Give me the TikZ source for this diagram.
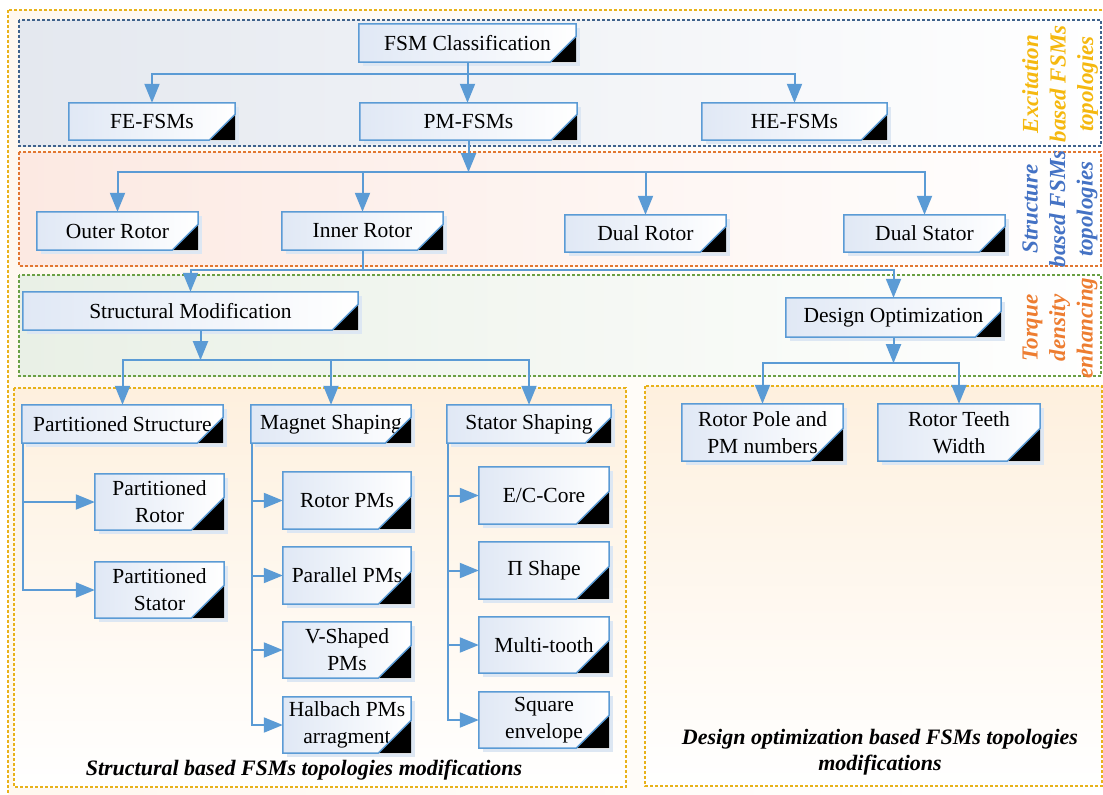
\documentclass[tikz,border=0pt]{standalone}
\usepackage{fontspec}
\setmainfont{Liberation Serif}
\usetikzlibrary{arrows.meta}
\definecolor{lblue}{HTML}{5B9BD5}
\definecolor{boxbg}{HTML}{E0E8F5}
\definecolor{shc}{HTML}{DDE7F3}
\definecolor{ygold}{HTML}{E8B21A}
\definecolor{bandblue}{HTML}{3E628C}
\definecolor{bandor}{HTML}{E27730}
\definecolor{bandgr}{HTML}{6AA044}
\definecolor{labgold}{HTML}{F5B80F}
\definecolor{labblue}{HTML}{4472C4}
\definecolor{labor}{HTML}{ED7D31}
\definecolor{fillblue}{HTML}{E4E8EF}
\definecolor{fillor}{HTML}{FCE9E2}
\definecolor{fillgr}{HTML}{E9F0E6}
\definecolor{peach}{HTML}{FEF0DE}
\newcommand\bxx[6]{%
  \fill[shc] (#2-#4/2+4,#3-#5/2+4) rectangle (#2+#4/2+4,#3+#5/2+4);
  \node[bx, minimum width=#4pt, minimum height=#5pt] (#1) at (#2,#3) {#6};}
\begin{document}
\begin{tikzpicture}[x=1pt,y=-1pt,
  arr/.style={draw=lblue, line width=2pt, -{Triangle[length=19pt,width=15pt]}},
  ln/.style={draw=lblue, line width=2pt},
  bx/.style={rectangle, inner sep=0pt, left color=boxbg, right color=white, font=\fontsize{21.5}{27}\selectfont, align=center},
  dsh/.style={line width=1.4pt, dash pattern=on 3pt off 2pt},
  sidelab/.style={rotate=90, align=center, font=\bfseries\itshape\fontsize{23}{27.5}\selectfont},
  capt/.style={align=center, font=\bfseries\itshape\fontsize{22}{26}\selectfont}]
\useasboundingbox (0,0) rectangle (1103,795);
\clip (0,0) rectangle (1103,795);
% outer frame
\path[left color=peach!50, right color=white] (8,10) rectangle (1125,815);
\draw[dsh, draw=ygold] (8,10) rectangle (1125,815);
% bands
\path[left color=fillblue, right color=white] (19,20) rectangle (1101,146);
\draw[dsh, draw=bandblue] (19,20) rectangle (1101,146);
\path[left color=fillor, right color=white] (19,152) rectangle (1101,266);
\draw[dsh, draw=bandor] (19,152) rectangle (1101,266);
\path[left color=fillgr, right color=white] (19,275) rectangle (1101,376);
\draw[dsh, draw=bandgr] (19,275) rectangle (1101,376);
\path[top color=peach, bottom color=white] (14,388) rectangle (626,787);
\draw[dsh, draw=ygold] (14,388) rectangle (626,787);
\path[top color=peach, bottom color=white] (645,386) rectangle (1102,786);
\draw[dsh, draw=ygold] (645,386) rectangle (1102,786);
% boxes
\bxx{fsm}{467.5}{43}{217}{38}{FSM Classification}
\bxx{fe}{152}{121.5}{166}{37}{FE-FSMs}
\bxx{pm}{468.5}{121.5}{217}{37}{PM-FSMs}
\bxx{he}{794.5}{121.5}{185}{37}{HE-FSMs}
\bxx{outer}{117.5}{231}{161}{38}{Outer Rotor}
\bxx{inner}{362.5}{231}{161}{38}{Inner Rotor}
\bxx{dualr}{645.5}{233.5}{161}{37}{Dual Rotor}
\bxx{duals}{924.5}{233.5}{161}{37}{Dual Stator}
\bxx{sm}{190.5}{311}{335}{38}{Structural Modification}
\bxx{dopt}{893.5}{317.5}{215}{39}{Design Optimization}
\bxx{ps}{122.5}{424}{201}{38}{Partitioned Structure}
\bxx{ms}{331}{424}{160}{38}{Magnet Shaping}
\bxx{ss}{529}{424}{164}{38}{Stator Shaping}
\bxx{prot}{159.5}{502}{129}{56}{Partitioned\\Rotor}
\bxx{psta}{159.5}{590}{129}{56}{Partitioned\\Stator}
\bxx{rpm}{347}{500.5}{128}{57}{Rotor PMs}
\bxx{ppm}{347}{575.5}{128}{57}{Parallel PMs}
\bxx{vpm}{347}{650}{128}{56}{V-Shaped\\PMs}
\bxx{hpm}{347}{725}{128}{56}{Halbach PMs\\arragment}
\bxx{ec}{544}{495.5}{130}{57}{E/C-Core}
\bxx{pi}{544}{570.5}{130}{57}{Π Shape}
\bxx{mt}{544}{645}{130}{56}{Multi-tooth}
\bxx{sq}{544}{720}{130}{56}{Square\\envelope}
\bxx{rp}{762.5}{432.5}{161}{57}{Rotor Pole and\\PM numbers}
\bxx{rt}{959}{432.5}{162}{57}{Rotor Teeth\\Width}
% corner decoration
\foreach \n/\tri in {fsm/26,fe/26,pm/26,he/26,outer/26,inner/26,dualr/26,duals/26,sm/26,dopt/26,ps/26,ms/26,ss/26,prot/33,psta/33,rpm/33,ppm/33,vpm/33,hpm/33,ec/33,pi/33,mt/33,sq/33,rp/33,rt/33}{
  \fill[black] ([xshift=-\tri]\n.south east) -- (\n.south east) -- ([yshift=\tri]\n.south east) -- cycle;
  \draw[draw=lblue, line width=1.5pt] (\n.north west) -- (\n.north east) -- ([yshift=\tri]\n.south east) -- ([xshift=-\tri]\n.south east) -- (\n.south west) -- cycle;
}
% connectors
\draw[ln] (fsm.south) -- ++(0,12) coordinate (j1);
\draw[arr] (j1) -| (fe.north);
\draw[arr] (j1) -- (j1 |- pm.north);
\draw[arr] (j1) -| (he.north);
\draw[arr] (pm.south) -- ++(0,32) coordinate (j2);
\draw[arr] (j2) -| (outer.north);
\draw[arr] (j2) -| (inner.north);
\draw[arr] (j2) -| (dualr.north);
\draw[arr] (j2) -| (duals.north);
\draw[ln] (inner.south) -- ++(0,20) coordinate (j3);
\draw[arr] (j3) -| (sm.north);
\draw[arr] (j3) -| (dopt.north);
\coordinate (smo) at ([xshift=10]sm.south);
\draw[arr] (smo) -- ++(0,30) coordinate (j4);
\draw[arr] (j4) -| (ps.north);
\draw[arr] (j4) -| (ms.north);
\draw[arr] (j4) -| (ss.north);
\draw[arr] (dopt.south) -- ++(0,26) coordinate (j5);
\draw[arr] (j5) -| (rp.north);
\draw[arr] (j5) -| (rt.north);
\coordinate (psb) at ([xshift=1]ps.south west);
\draw[arr] (psb) |- (prot.west);
\draw[arr] (psb) |- (psta.west);
\foreach \m in {rpm,ppm,vpm,hpm}{\draw[arr] ([xshift=1]ms.south west) |- (\m.west);}
\foreach \m in {ec,pi,mt,sq}{\draw[arr] ([xshift=1]ss.south west) |- (\m.west);}
% side labels
\node[sidelab, text=labgold] (lab1) at (1060,84) {Excitation\\based FSMs\\topologies};
\node[sidelab, text=labblue] (lab2) at (1060,209) {Structure\\based FSMs\\topologies};
\node[sidelab, text=labor] (lab3) at (1060,328) {Torque\\density\\enhancing};
% captions
\node[capt] (cap1) at (304,770) {Structural based FSMs topologies modifications};
\node[capt] (cap2) at (880,752) {Design optimization based FSMs topologies\\modifications};
\end{tikzpicture}
\end{document}
